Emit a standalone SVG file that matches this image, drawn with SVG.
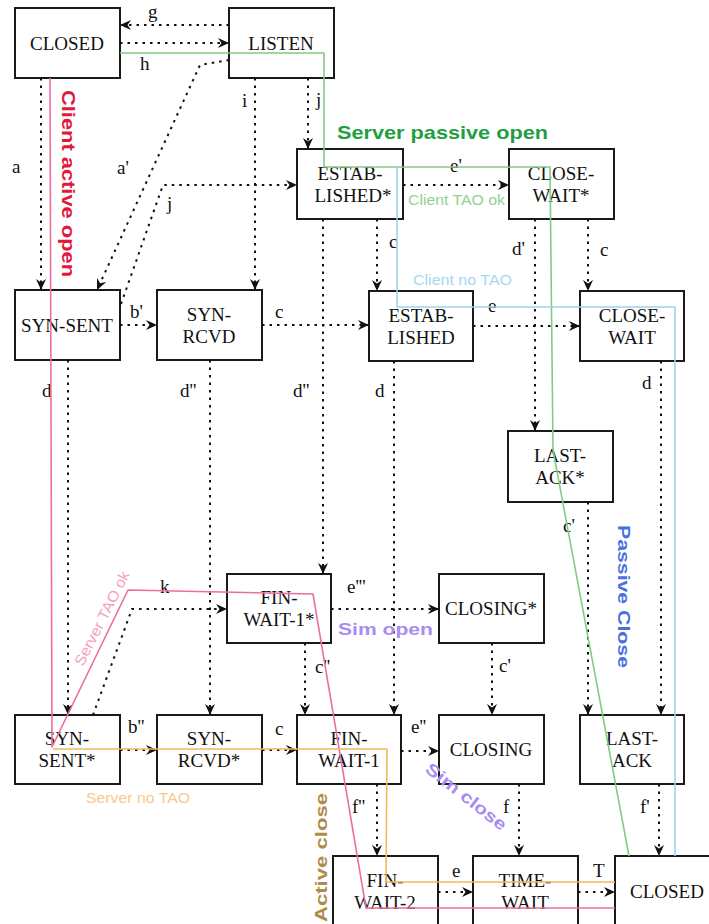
<svg xmlns="http://www.w3.org/2000/svg" width="709" height="924" viewBox="0 0 709 924">
<defs>
<style>
.box rect{fill:#fff;stroke:#1a1a1a;stroke-width:2}
.box text{font-family:"Liberation Serif","Times New Roman",serif;font-size:19px;fill:#111;text-anchor:middle}
.conn path{fill:none;stroke:#111;stroke-width:2;stroke-dasharray:2.5 5;marker-end:url(#arr)}
.lbl{font-family:"Liberation Serif","Times New Roman",serif;font-size:19px;fill:#111}
.ov{fill:none;stroke-width:1.6;stroke-linejoin:round}
.bold{font-family:"Liberation Sans",Arial,sans-serif;font-weight:bold}
.thin{font-family:"Liberation Sans",Arial,sans-serif;font-size:15px}
</style>
<marker id="arr" markerUnits="userSpaceOnUse" markerWidth="12" markerHeight="11" refX="11" refY="5.5" orient="auto">
<path d="M0,0.5 L11,5.5 L0,10.5 L3.5,5.5 Z" fill="#111"/>
</marker>
</defs>
<rect width="709" height="924" fill="#fff"/>

<g id="nodes" class="box">
<g id="closed-top"><rect x="15" y="8" width="105" height="70"/><text x="67" y="50">CLOSED</text></g>
<g id="listen"><rect x="229" y="8" width="105" height="70"/><text x="281" y="50">LISTEN</text></g>
<g id="established-star"><rect x="297" y="149" width="106" height="70"/><text x="350" y="180">ESTAB-</text><text x="353" y="202">LISHED*</text></g>
<g id="close-wait-star"><rect x="509" y="149" width="105" height="70"/><text x="561" y="180">CLOSE-</text><text x="561" y="202">WAIT*</text></g>
<g id="syn-sent"><rect x="15" y="290" width="105" height="70"/><text x="67" y="332">SYN-SENT</text></g>
<g id="syn-rcvd"><rect x="157" y="290" width="105" height="70"/><text x="209" y="321">SYN-</text><text x="209" y="343">RCVD</text></g>
<g id="established"><rect x="369" y="291" width="104" height="70"/><text x="421" y="322">ESTAB-</text><text x="421" y="344">LISHED</text></g>
<g id="close-wait"><rect x="580" y="291" width="104" height="70"/><text x="632" y="322">CLOSE-</text><text x="632" y="344">WAIT</text></g>
<g id="last-ack-star"><rect x="508" y="431" width="105" height="71"/><text x="560" y="462">LAST-</text><text x="560" y="484">ACK*</text></g>
<g id="fin-wait-1-star"><rect x="227" y="574" width="104" height="69"/><text x="279" y="604">FIN-</text><text x="279" y="626">WAIT-1*</text></g>
<g id="closing-star"><rect x="439" y="574" width="105" height="69"/><text x="491" y="615">CLOSING*</text></g>
<g id="syn-sent-star"><rect x="15" y="715" width="105" height="69"/><text x="67" y="745">SYN-</text><text x="67" y="767">SENT*</text></g>
<g id="syn-rcvd-star"><rect x="157" y="715" width="105" height="69"/><text x="209" y="745">SYN-</text><text x="209" y="767">RCVD*</text></g>
<g id="fin-wait-1"><rect x="297" y="715" width="104" height="69"/><text x="349" y="745">FIN-</text><text x="349" y="767">WAIT-1</text></g>
<g id="closing"><rect x="439" y="715" width="105" height="69"/><text x="491" y="756">CLOSING</text></g>
<g id="last-ack"><rect x="580" y="715" width="104" height="69"/><text x="632" y="745">LAST-</text><text x="632" y="767">ACK</text></g>
<g id="fin-wait-2"><rect x="333" y="856" width="105" height="70"/><text x="385" y="887">FIN-</text><text x="385" y="909">WAIT-2</text></g>
<g id="time-wait"><rect x="473" y="856" width="105" height="70"/><text x="525" y="887">TIME-</text><text x="525" y="909">WAIT</text></g>
<g id="closed-bottom"><rect x="615" y="856" width="105" height="70"/><text x="667" y="898">CLOSED</text></g>
</g>

<g id="connectors" class="conn">
<path d="M229,25 H120"/>
<path d="M120,43 H229"/>
<path d="M41,78 V290"/>
<path d="M229,60 L200,65 L97,290"/>
<path d="M255,78 V290"/>
<path d="M308,78 V149"/>
<path d="M121,304 L163,185 H297"/>
<path d="M120,325 H157"/>
<path d="M262,325 H369"/>
<path d="M377,219 V291"/>
<path d="M403,185 H509"/>
<path d="M323,219 V574"/>
<path d="M68,360 V715"/>
<path d="M210,360 V715"/>
<path d="M394,361 V715"/>
<path d="M535,219 V431"/>
<path d="M588,219 V291"/>
<path d="M473,326 H580"/>
<path d="M661,361 V715"/>
<path d="M588,502 V715"/>
<path d="M93,715 L132,609 H227"/>
<path d="M120,750 H157"/>
<path d="M262,750 H297"/>
<path d="M331,609 H439"/>
<path d="M305,643 V715"/>
<path d="M401,751 H439"/>
<path d="M492,643 V715"/>
<path d="M377,784 V856"/>
<path d="M519,784 V856"/>
<path d="M659,784 V856"/>
<path d="M438,892 H473"/>
<path d="M578,892 H615"/>
</g>

<g id="connector-labels" class="lbl">
<text x="148" y="18">g</text>
<text x="140" y="70">h</text>
<text x="12" y="173">a</text>
<text x="117" y="174">a'</text>
<text x="242" y="107">i</text>
<text x="316" y="106">j</text>
<text x="167" y="210">j</text>
<text x="130" y="318">b'</text>
<text x="275" y="318">c</text>
<text x="389" y="248">c</text>
<text x="450" y="172">e'</text>
<text x="512" y="255">d'</text>
<text x="600" y="256">c</text>
<text x="488" y="312">e</text>
<text x="42" y="397">d</text>
<text x="180" y="397">d''</text>
<text x="293" y="397">d''</text>
<text x="375" y="397">d</text>
<text x="642" y="389">d</text>
<text x="563" y="532">c'</text>
<text x="160" y="593">k</text>
<text x="347" y="593">e'''</text>
<text x="315" y="673">c''</text>
<text x="499" y="672">c'</text>
<text x="128" y="733">b''</text>
<text x="275" y="735">c</text>
<text x="411" y="733">e''</text>
<text x="352" y="813">f''</text>
<text x="503" y="813">f</text>
<text x="640" y="813">f'</text>
<text x="452" y="877">e</text>
<text x="593" y="877">T</text>
</g>

<g id="paths">
<polyline class="ov" stroke="#82cc82" points="120,53 324,53 324,167 550,167 553,450 629,856"/>
<polyline class="ov" stroke="#9fd3f0" points="397,167 397,307 675,307 675,856"/>
<polyline class="ov" stroke="#ec6f9b" points="50,78 52,747 128,590 313,594 366,908 615,908"/>
<polyline class="ov" stroke="#f5b75c" points="53,749 387,749 386,882 615,882"/>
</g>

<g id="annotations">
<text class="bold" x="337" y="139" font-size="19" fill="#1f9f3f" textLength="211" lengthAdjust="spacingAndGlyphs">Server passive open</text>
<text class="bold" transform="translate(62,90) rotate(90)" font-size="18" fill="#e5163c" textLength="187" lengthAdjust="spacingAndGlyphs">Client active open</text>
<text class="bold" transform="translate(618,525) rotate(90)" font-size="17" fill="#4a6fe0" textLength="143" lengthAdjust="spacingAndGlyphs">Passive Close</text>
<text class="bold" transform="translate(327,922) rotate(-90)" font-size="17" fill="#b08a48" textLength="129" lengthAdjust="spacingAndGlyphs">Active close</text>
<text class="bold" x="338" y="635" font-size="17" fill="#a98cf0" textLength="95" lengthAdjust="spacingAndGlyphs">Sim open</text>
<text class="bold" transform="translate(424,771) rotate(38)" font-size="17" fill="#a98cf0" textLength="98" lengthAdjust="spacingAndGlyphs">Sim close</text>
<text class="thin" x="408" y="205" fill="#8fd38f" textLength="97" lengthAdjust="spacingAndGlyphs">Client TAO ok</text>
<text class="thin" x="413" y="285" fill="#a6d7f3" textLength="99" lengthAdjust="spacingAndGlyphs">Client no TAO</text>
<text class="thin" x="86" y="803" fill="#f8c88c" textLength="104" lengthAdjust="spacingAndGlyphs">Server no TAO</text>
<text class="thin" transform="translate(83,667) rotate(-63)" fill="#f5a0c0" textLength="104" lengthAdjust="spacingAndGlyphs">Server TAO ok</text>
</g>
</svg>
